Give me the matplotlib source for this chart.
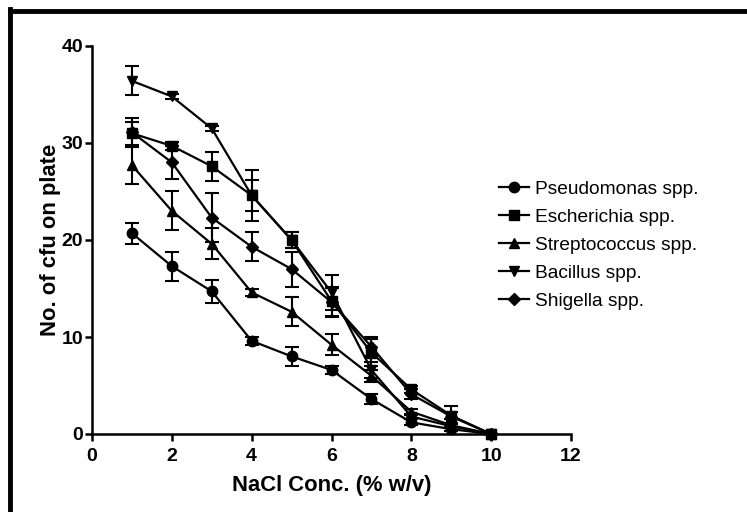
import numpy as np
import matplotlib.pyplot as plt
from matplotlib.lines import Line2D

plt.rcParams['font.family'] = ['Liberation Sans', 'DejaVu Sans']

nacl = [1, 2, 3, 4, 5, 6, 7, 8, 9, 10]

pseudo = [20.7, 17.3, 14.7, 9.6, 8.0, 6.6, 3.6, 1.2, 0.5, 0.0]
pseudo_err = [1.1, 1.5, 1.2, 0.4, 1.0, 0.4, 0.5, 0.3, 0.2, 0.0]

esch = [31.0, 29.7, 27.6, 24.6, 20.0, 13.7, 8.4, 4.6, 1.9, 0.0]
esch_err = [1.2, 0.4, 1.5, 2.6, 0.8, 1.5, 1.4, 0.4, 0.4, 0.0]

strep = [27.7, 23.0, 19.6, 14.6, 12.6, 9.2, 6.0, 2.3, 0.9, 0.0]
strep_err = [1.9, 2.0, 1.6, 0.4, 1.5, 1.1, 0.6, 0.3, 0.2, 0.0]

bacil = [36.4, 34.8, 31.5, 24.6, 20.0, 14.6, 6.6, 1.8, 0.8, 0.0]
bacil_err = [1.5, 0.3, 0.3, 1.6, 0.8, 1.8, 0.8, 0.3, 0.2, 0.0]

shig = [31.1, 28.0, 22.3, 19.3, 17.0, 13.6, 9.0, 4.1, 1.8, 0.0]
shig_err = [1.5, 1.7, 2.5, 1.5, 1.8, 1.5, 1.0, 0.5, 1.1, 0.0]

names = ["Pseudomonas spp.", "Escherichia spp.", "Streptococcus spp.",
         "Bacillus spp.", "Shigella spp."]
series = [(pseudo, pseudo_err, 'o'), (esch, esch_err, 's'),
          (strep, strep_err, '^'), (bacil, bacil_err, 'v'),
          (shig, shig_err, 'D')]

fig = plt.figure(figsize=(7.47, 5.12), dpi=100)
ax = fig.add_axes([92/747, 1-434/512, (571-92)/747, (434-46)/512])

for (y, e, m), name in zip(series, names):
    ms = 6.5 if m == 'D' else 7.5
    ax.errorbar(nacl, y, yerr=e, color='black', marker=m, markersize=ms,
                linewidth=1.6, elinewidth=1.5, capsize=5, capthick=1.5,
                label=name, clip_on=False)

ax.set_xlim(0, 12)
ax.set_ylim(0, 40)
ax.set_xticks(np.arange(0, 13, 2))
ax.set_yticks(np.arange(0, 41, 10))
for s in ['top', 'right']:
    ax.spines[s].set_visible(False)
for s in ['left', 'bottom']:
    ax.spines[s].set_linewidth(1.8)
ax.tick_params(width=1.8, length=5, labelsize=14, direction='out', pad=1.5)
ax.tick_params(axis='x', pad=5)
for lb in ax.get_xticklabels() + ax.get_yticklabels():
    lb.set_fontweight('bold')
ax.set_xlabel("NaCl Conc. (% w/v)", fontsize=15.8, fontweight='bold', labelpad=7)
ax.set_ylabel("No. of cfu on plate", fontsize=15.8, fontweight='bold', labelpad=0)

handles = [Line2D([], [], color='black', marker=m, markersize=(6.5 if m == 'D' else 7.5),
                  linewidth=1.6) for (_, _, m) in series]
fig.legend(handles, names, loc='center left', bbox_to_anchor=(489/747, 1-245/512),
           frameon=False, fontsize=13.8, handlelength=1.6, handletextpad=0.3,
           labelspacing=0.55, borderpad=0)

# outer frame (left and top edges visible)
fig.add_artist(Line2D([9.5/747, 9.5/747], [0, 1-9/512], transform=fig.transFigure,
                      color='black', linewidth=3.5, solid_capstyle='projecting'))
fig.add_artist(Line2D([9.5/747, 1], [1-10.5/512, 1-10.5/512], transform=fig.transFigure,
                      color='black', linewidth=3.5, solid_capstyle='projecting'))

fig.savefig('out.png', dpi=100)
